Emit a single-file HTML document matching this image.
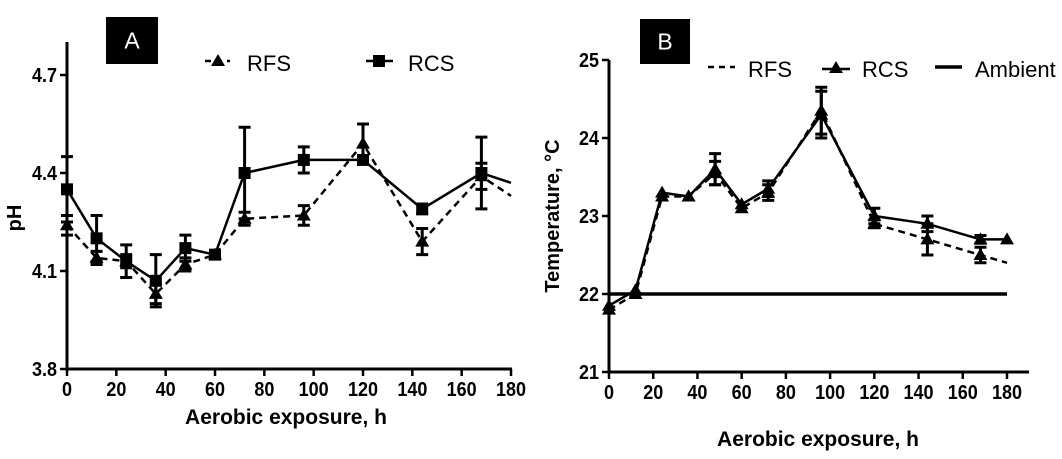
<!DOCTYPE html>
<html><head><meta charset="utf-8"><style>
body{margin:0;background:#fff;}
svg text{font-family:"Liberation Sans",Arial,sans-serif;}
</style></head><body>
<svg id="c" width="1062" height="454" xmlns="http://www.w3.org/2000/svg"></svg>
<script>
const hours = [0,12,24,36,48,60,72,96,120,144,168,180];
const phRFS = [4.24,4.14,4.13,4.03,4.12,4.15,4.26,4.27,4.49,4.19,4.39,4.33];
const phRCS = [4.35,4.20,4.13,4.07,4.17,4.15,4.40,4.44,4.44,4.29,4.40,4.37];
const phRFSerr = [0.03,0.02,0.02,0.03,0.02,0,0.02,0.03,0.06,0.04,0.04,0];
const phRCSerr = [0.10,0.07,0.05,0.08,0.04,0,0.14,0.04,0.01,0.015,0.11,0];
const tRFS = [21.8,22.0,23.25,23.25,23.55,23.1,23.3,24.35,22.9,22.7,22.5,22.4];
const tRCS = [21.85,22.05,23.3,23.25,23.6,23.15,23.35,24.3,23.0,22.9,22.7,22.7];
const tRFSerr = [0,0,0,0,0.15,0,0.1,0.3,0.05,0.2,0.1,0];
const tRCSerr = [0,0,0,0,0.2,0,0.1,0.3,0.1,0.1,0.05,0];
const ambient = [22,22];
const ambientX = [0,180];
const xTicks = [0,20,40,60,80,100,120,140,160,180];
const phTicks = [3.8,4.1,4.4,4.7];
const tTicks = [21,22,23,24,25];

const svg=document.getElementById('c');
const NS='http://www.w3.org/2000/svg';
function mk(tag,attrs,parent){const e=document.createElementNS(NS,tag);for(const k in attrs)e.setAttribute(k,attrs[k]);(parent||svg).appendChild(e);return e;}

function panel(cfg){
  const g=mk('g',{});
  
  
  const X=v=>cfg.x0+(v-0)/180*(cfg.x1-cfg.x0);
  const Y=v=>cfg.y0-(v-cfg.ymin)/(cfg.ymax-cfg.ymin)*(cfg.y0-cfg.y1);
  const ax=mk('path',{d:`M${cfg.x0} ${cfg.axTop} V${cfg.y0} H${cfg.axRight}`,stroke:'#000','stroke-width':3,fill:'none'},g);
  
  
  xTicks.forEach(t=>{
    mk('line',{x1:X(t),x2:X(t),y1:cfg.y0,y2:cfg.y0+7,stroke:'#000','stroke-width':2.5},g);
    const tx=mk('text',{x:X(t),y:cfg.y0+27,'text-anchor':'middle','font-size':20,'font-weight':'bold',transform:`translate(${X(t)} 0) scale(0.9 1) translate(${-X(t)} 0)`},g);
    tx.textContent=t;
    
    
  });
  cfg.yTicks.forEach(t=>{
    mk('line',{x1:cfg.x0-7,x2:cfg.x0,y1:Y(t),y2:Y(t),stroke:'#000','stroke-width':2.5},g);
    const tx=mk('text',{x:cfg.x0-10,y:Y(t)+7,'text-anchor':'end','font-size':20,'font-weight':'bold',transform:`translate(${cfg.x0-10} 0) scale(0.9 1) translate(${-(cfg.x0-10)} 0)`},g);
    tx.textContent=cfg.fmt(t);
    
    
  });
  return {g,X,Y};
}
function series(p,xs,ys,errs,dash,marker,name,lastMarker){
  const g=mk('g',{},p.g);
  
  
  const pts=xs.map((x,i)=>p.X(x)+','+p.Y(ys[i])).join(' ');
  mk('polyline',{points:pts,fill:'none',stroke:'#000','stroke-width':2.5,'stroke-dasharray':dash?'7,5':'none'},g);
  xs.forEach((x,i)=>{
    const cx=p.X(x),cy=p.Y(ys[i]);
    if(errs&&errs[i]>0){
      const t=p.Y(ys[i]+errs[i]),b=p.Y(ys[i]-errs[i]);
      mk('path',{d:`M${cx} ${t}V${b}M${cx-6} ${t}H${cx+6}M${cx-6} ${b}H${cx+6}`,stroke:'#000','stroke-width':3,fill:'none'},g);
    }
    if(i===xs.length-1 && !lastMarker) return;
    let m;
    if(marker==='sq') m=mk('rect',{x:cx-6,y:cy-6,width:12,height:12,fill:'#000'},g);
    else m=mk('polygon',{points:`${cx},${cy-7} ${cx-7},${cy+5} ${cx+7},${cy+5}`,fill:'#000'},g);
    
    
  });
}
function label(x,y,w,h,t,name){
  mk('rect',{x,y,width:w,height:h,fill:'#000'});
  const tx=mk('text',{x:x+w/2,y:y+h/2+8,'text-anchor':'middle','font-size':23,fill:'#fff'});
  tx.textContent=t;
  
  
}
function text(x,y,t,opt,name){
  const tx=mk('text',Object.assign({x,y},opt));tx.textContent=t;
  
  
  return tx;
}

// Panel A
const A=panel({name:'panel-a',x0:67,x1:511,y0:369,y1:75,ymin:3.8,ymax:4.7,axTop:42,axRight:512,yTicks:phTicks,fmt:v=>v.toFixed(1)});
series(A,hours,phRFS,phRFSerr,true,'tri','series-ph-rfs',false);
series(A,hours,phRCS,phRCSerr,false,'sq','series-ph-rcs',false);
label(106,17,52,47,'A','panel-a-label');
mk('line',{x1:205,x2:230,y1:61,y2:61,stroke:'#000','stroke-width':2.5,'stroke-dasharray':'6,5'});
mk('polygon',{points:'218,54 211,66 225,66',fill:'#000'});
text(247,71,'RFS',{'font-size':22},'legend-rfs');
mk('line',{x1:366,x2:393,y1:61,y2:61,stroke:'#000','stroke-width':2.5});
mk('rect',{x:373,y:55,width:12,height:12,fill:'#000'});
text(408,71,'RCS',{'font-size':22},'legend-rcs');
text(0,0,'pH',{'font-size':20,'font-weight':'bold',transform:'translate(21,218) rotate(-90)','text-anchor':'middle'},'y-axis-title-a');
text(286,424,'Aerobic exposure, h',{'font-size':21,'font-weight':'bold','text-anchor':'middle'},'x-axis-title-a');

// Panel B
const B=panel({name:'panel-b',x0:609,x1:1007,y0:372,y1:60,ymin:21,ymax:25,axTop:60,axRight:1029,yTicks:tTicks,fmt:v=>v});
const amb=mk('line',{x1:B.X(ambientX[0]),x2:B.X(ambientX[1]),y1:B.Y(ambient[0]),y2:B.Y(ambient[1]),stroke:'#000','stroke-width':3.5},B.g);


series(B,hours,tRFS,tRFSerr,true,'tri','series-temp-rfs',false);
series(B,hours,tRCS,tRCSerr,false,'tri','series-temp-rcs',true);
label(640,19,50,45,'B','panel-b-label');
mk('line',{x1:708,x2:735,y1:67,y2:67,stroke:'#000','stroke-width':2.5,'stroke-dasharray':'6,5'});
text(748,77,'RFS',{'font-size':22},'legend-rfs-b');
mk('line',{x1:822,x2:850,y1:69,y2:69,stroke:'#000','stroke-width':2.5});
mk('polygon',{points:'836,61 829,73 843,73',fill:'#000'});
text(862,77,'RCS',{'font-size':22},'legend-rcs-b');
mk('line',{x1:935,x2:962,y1:67,y2:67,stroke:'#000','stroke-width':3.5});
text(975,77,'Ambient',{'font-size':22},'legend-ambient');
text(0,0,'Temperature, \u00B0C',{'font-size':20,'font-weight':'bold',transform:'translate(559,216) rotate(-90)','text-anchor':'middle'},'y-axis-title-b');
text(818,446,'Aerobic exposure, h',{'font-size':21,'font-weight':'bold','text-anchor':'middle'},'x-axis-title-b');
</script>
</body></html>
